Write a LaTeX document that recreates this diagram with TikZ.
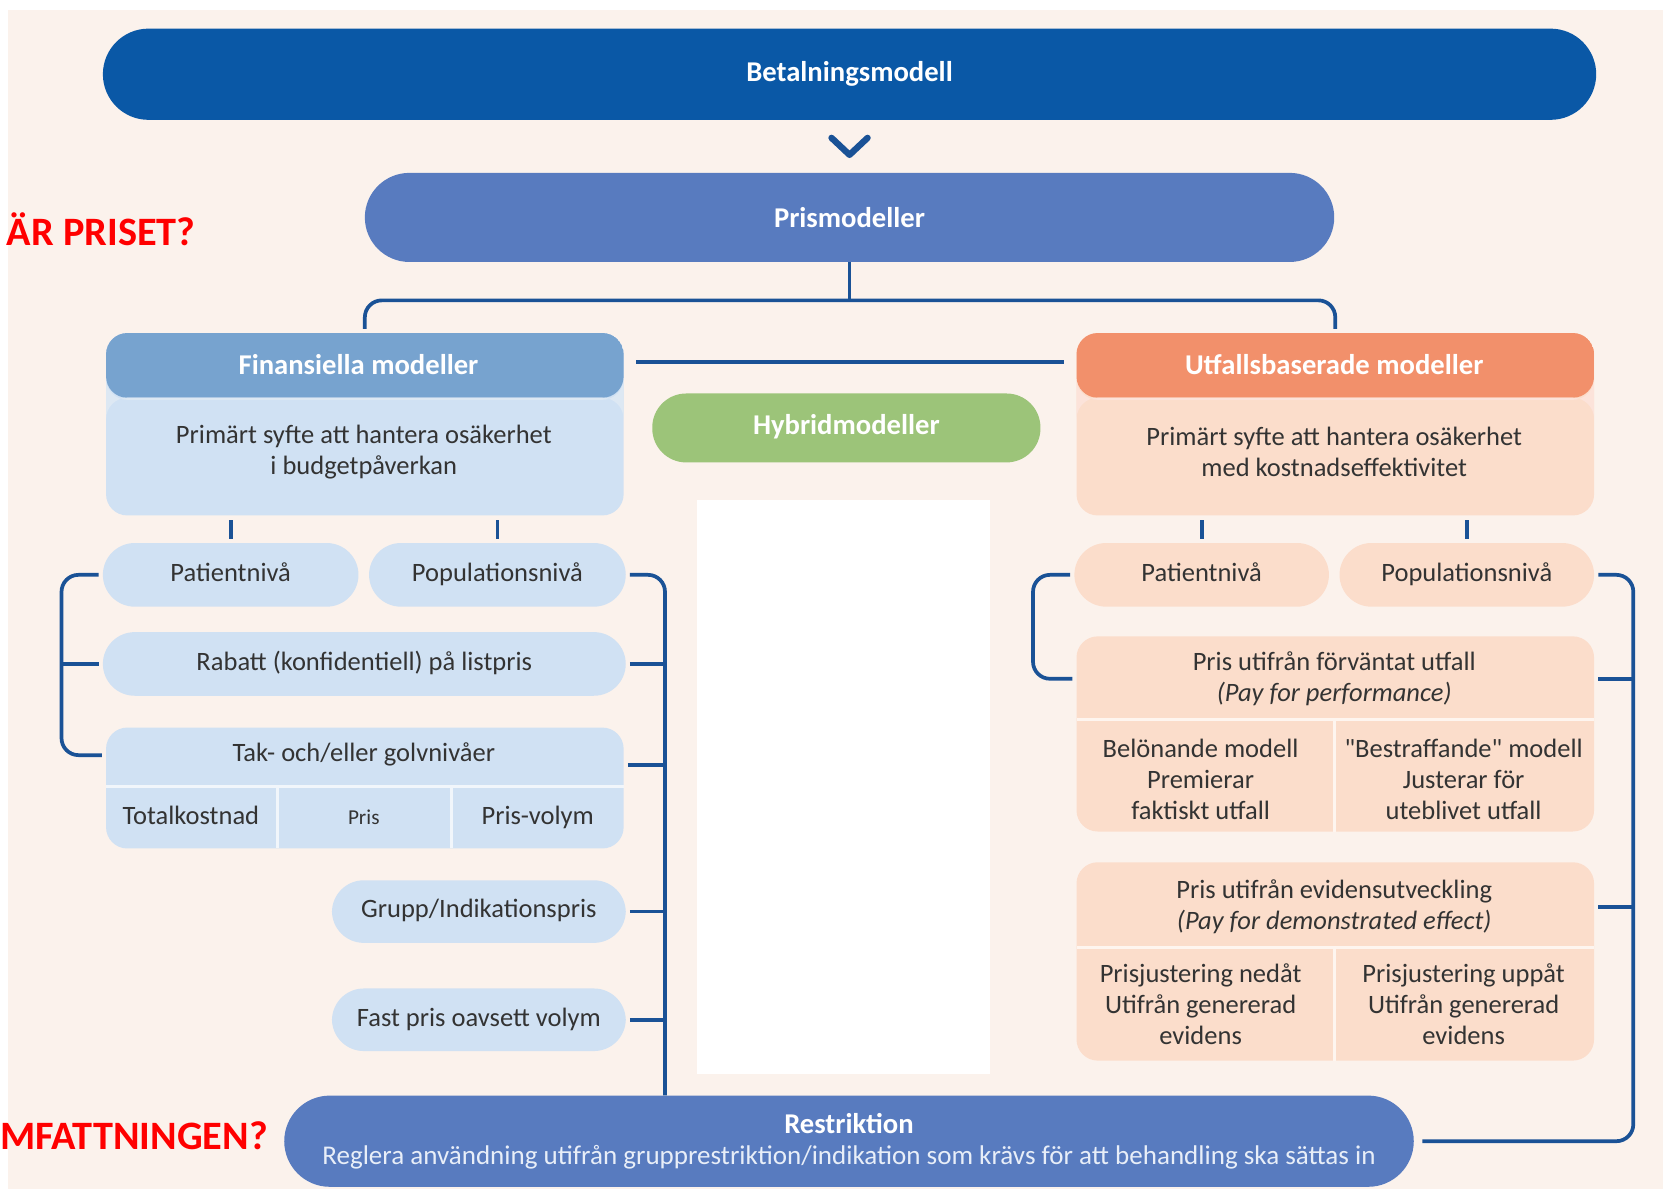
\documentclass[tikz,border=0pt]{standalone}
\usepackage{fontspec}
\setmainfont{Carlito}[Ligatures=TeXOff]
\usepackage{xcolor}
\usetikzlibrary{calc}

\begin{document}
\begin{tikzpicture}[x=1pt,y=-1pt,
  pillnode/.style={fill=#1,rounded corners=30,minimum height=60,inner sep=0,outer sep=4,text=txtgray,text height=18,text depth=6,font=\fontsize{25}{30}\selectfont},
  barnode/.style={fill=#1,rounded corners=43,minimum height=86,inner sep=0,text=white,font=\bfseries\fontsize{27}{32}\selectfont},
  panelnode/.style={fill=#1,rounded corners=20,minimum width=488,inner sep=0,outer sep=4},
  headpanel/.style={path picture={
      \fill[#1] (path picture bounding box.north west) rectangle ([yshift=-61pt]path picture bounding box.north east);
      \fill[white!75!#1] ([yshift=-61pt]path picture bounding box.north west) rectangle ([yshift=-63pt]path picture bounding box.north east);}},
  headtxt/.style={text=white,font=\bfseries\fontsize{27}{32}\selectfont},
  bodytxt/.style={text=txtgray,align=center,font=\fontsize{25}{29}\selectfont},
  celltxt/.style={bodytxt,text height=18,text depth=6},
  redtxt/.style={text=red,font=\bfseries\fontsize{38}{44}\selectfont},
  conn/.style={draw=linkblue,line width=3.5},
  sepline/.style={draw=white!70!#1,line width=3}]
\definecolor{cream}{HTML}{FBF2EC}
\definecolor{darkbar}{HTML}{0A58A6}
\definecolor{prisblue}{HTML}{587BBF}
\definecolor{linkblue}{HTML}{1A5296}
\definecolor{finhead}{HTML}{77A3CF}
\definecolor{finbody}{HTML}{D0E1F3}
\definecolor{utfhead}{HTML}{F2906B}
\definecolor{utfbody}{HTML}{FBDDCB}
\definecolor{hybgreen}{HTML}{9CC479}
\definecolor{txtgray}{HTML}{333333}
\definecolor{reslight}{HTML}{E8EEF8}
\useasboundingbox (0,0) rectangle (1568,1121);
\fill[white] (0,0) rectangle (1568,1121);
\fill[cream] (8,9) rectangle (1568,1121);

% top bars
\node[barnode=darkbar, minimum width=1408] (bet) at (801,70) {Betalningsmodell};
\node[barnode=prisblue, minimum width=914, minimum height=84, rounded corners=42] (pris) at (801,205) {Prismodeller};
\draw[conn, line width=6, line cap=round, line join=round]
  ($(bet.south)!.5!(pris.north)+(-17,-8)$) -- ++(17,16) -- ++(17,-16);

% main panels
\node[panelnode=finbody, minimum height=172, headpanel=finhead] (fin) at (344,400) {};
\node[headtxt] (finH) at (338,344) {Finansiella modeller};
\node[bodytxt] (finB) at (343,426) {Primärt syfte att hantera osäkerhet\\i budgetpåverkan};
\node[panelnode=utfbody, minimum height=172, headpanel=utfhead] (utf) at (1259,400) {};
\node[headtxt] (utfH) at (1258,344) {Utfallsbaserade modeller};
\node[bodytxt] (utfB) at (1258,426) {Primärt syfte att hantera osäkerhet\\med kostnadseffektivitet};
\node[pillnode=hybgreen, minimum width=366, minimum height=65, rounded corners=32, headtxt] (hyb) at (798,403.5) {Hybridmodeller};
\fill[white] (657,471) rectangle (933,1013);

% financial side
\node[pillnode=finbody, minimum width=241] (patL) at (217.5,542) {Patientnivå};
\node[pillnode=finbody, minimum width=242] (popL) at (469,542) {Populationsnivå};
\node[pillnode=finbody, minimum width=493] (rab) at (343.5,626) {Rabatt (konfidentiell) på listpris};
\node[panelnode=finbody, minimum height=114] (tak) at (344,743) {};
\node[celltxt] (takH) at (343,712) {Tak- och/eller golvnivåer};
\node[celltxt] (tot) at (180,771) {Totalkostnad};
\node[celltxt, font=\fontsize{20}{24}\selectfont] (prs) at (343,771) {Pris};
\node[celltxt] (pv) at (507,771) {Pris-volym};
\draw[sepline=finbody] (100,741.5) -- (588,741.5) (262,741.5) -- (262,800) (426,741.5) -- (426,800);
\node[pillnode=finbody, minimum width=277, minimum height=59] (grp) at (451.5,859.5) {Grupp/Indikationspris};
\node[pillnode=finbody, minimum width=277, minimum height=59] (fast) at (451.5,961.5) {Fast pris oavsett volym};

% outcome side
\node[pillnode=utfbody, minimum width=240] (patR) at (1133,542) {Patientnivå};
\node[pillnode=utfbody, minimum width=240] (popR) at (1383,542) {Populationsnivå};
\node[panelnode=utfbody, minimum height=184] (ppf) at (1259,692) {};
\node[bodytxt] (ppfH) at (1258,640) {Pris utifrån förväntat utfall\\\textit{(Pay for performance)}};
\node[bodytxt] (bel) at (1132,735) {Belönande modell\\Premierar\\faktiskt utfall};
\node[bodytxt] (bes) at (1380,735) {"Bestraffande" modell\\Justerar för\\uteblivet utfall};
\draw[sepline=utfbody] (1015,678.5) -- (1503,678.5) (1258,678.5) -- (1258,784);
\node[panelnode=utfbody, minimum height=187] (ev) at (1259,906.5) {};
\node[bodytxt] (evH) at (1258,855) {Pris utifrån evidensutveckling\\\textit{(Pay for demonstrated effect)}};
\node[bodytxt] (ned) at (1132,947) {Prisjustering nedåt\\Utifrån genererad\\evidens};
\node[bodytxt] (upp) at (1380,947) {Prisjustering uppåt\\Utifrån genererad\\evidens};
\draw[sepline=utfbody] (1015,893) -- (1503,893) (1258,893) -- (1258,1000);

% restriction bar
\node[barnode=prisblue, minimum width=1065, align=center, font=\fontsize{25.5}{29}\selectfont] (res) at (800.5,1076)
  {{\bfseries\fontsize{27}{29}\selectfont Restriktion}\\{\color{reslight}Reglera användning utifrån gruppre\-striktion/indikation som krävs för att behandling ska sättas in}};

% labels
\node[redtxt, anchor=west] (q1) at (3,216) {ÄR PRISET?};
\node[redtxt, anchor=west, inner xsep=0] (q2) at (0,1071) {MFATTNINGEN?};

% connectors
\draw[conn] (pris.south) -- ++(0,36) coordinate (tj);
\draw[conn, rounded corners=16] (fin.north) |- (tj) -| (utf.north);
\draw[conn, shorten <=8pt, shorten >=8pt] ($(fin.east |- finH)+(0,-3)$) -- ($(utf.west |- finH)+(0,-3)$);
\foreach \p in {patL,popL} \draw[conn] (\p.north) -- (\p.north |- fin.south);
\foreach \p in {patR,popR} \draw[conn] (\p.north) -- (\p.north |- utf.south);
\draw[conn, rounded corners=16] (patL.west) -- ++(-35,0) |- (tak.west |- takH);
\draw[conn] (rab.west) -- ++(-35,0);
\draw[conn, rounded corners=16] (popL.east) -- ++(33,0) coordinate (jL) -- (jL |- res.north);
\foreach \p in {rab,grp,fast} \draw[conn] (\p.east) -- (\p.east -| jL);
\draw[conn] ($(tak.east |- takH)+(0,9)$) -- ($(jL |- takH)+(0,9)$);
\draw[conn, rounded corners=16] (patR.west) -- ++(-35,0) |- (ppf.west |- ppfH);
\draw[conn, rounded corners=16, shorten >=8pt] (popR.east) -- ++(33,0) coordinate (jR) |- (res.east);
\draw[conn] (ppf.east |- ppfH) -- (jR |- ppfH);
\draw[conn] (ev.east |- evH) -- (jR |- evH);
\end{tikzpicture}
\end{document}
